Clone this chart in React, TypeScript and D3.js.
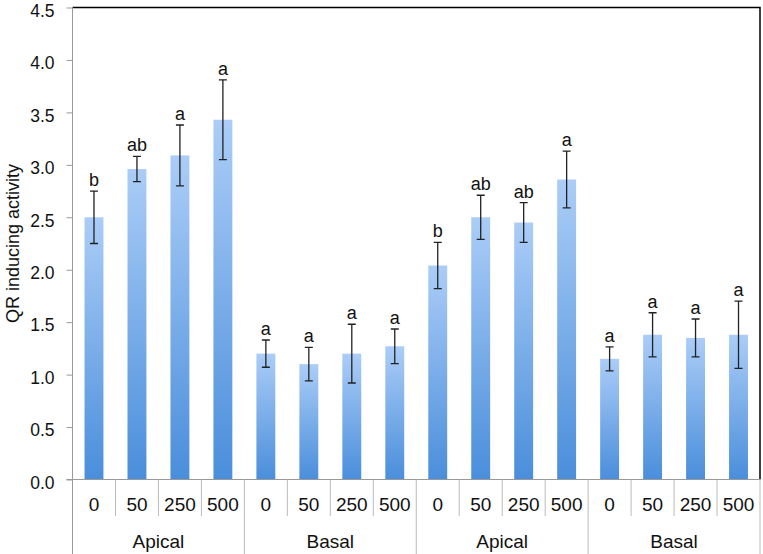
import { useRef, useEffect } from "react";
import { select, scaleLinear, scaleBand, axisLeft, format, range } from "d3";

// concentrations per bar, and tissue groups
const doses = ["0", "50", "250", "500"];
const groups = ["Apical", "Basal", "Apical", "Basal"];

// mean QR inducing activity for each bar (left to right)
const values = [2.5, 2.96, 3.09, 3.43, 1.2, 1.1, 1.2, 1.27, 2.04, 2.5, 2.45, 2.86, 1.15, 1.38, 1.35, 1.38];
// error bar half-widths
const errors = [0.25, 0.12, 0.29, 0.38, 0.13, 0.16, 0.28, 0.165, 0.22, 0.21, 0.19, 0.27, 0.115, 0.21, 0.18, 0.32];
// significance letters
const letters = ["b", "ab", "a", "a", "a", "a", "a", "a", "b", "ab", "ab", "a", "a", "a", "a", "a"];

const yTicks = [0, 0.5, 1, 1.5, 2, 2.5, 3, 3.5, 4, 4.5];

const W = 763;
const H = 554;
const left = 72.5;
const right = 760;
const top = 7.5;
const bottom = 479.5;
const font = "'Liberation Sans', Arial, Helvetica, sans-serif";

export default function App() {
  const svgRef = useRef<SVGSVGElement>(null);

  useEffect(() => {
    const svg = select(svgRef.current);
    svg.selectAll("*").remove();

    const defs = svg.append("defs");
    const grad = defs
      .append("linearGradient")
      .attr("id", "barFill")
      .attr("x1", 0)
      .attr("y1", 0)
      .attr("x2", 0)
      .attr("y2", 1);
    grad.append("stop").attr("offset", "0%").attr("stop-color", "#abcdf7");
    grad.append("stop").attr("offset", "100%").attr("stop-color", "#4a8edb");

    const xScale = scaleBand<number>()
      .domain(range(values.length))
      .range([left, right])
      .paddingInner(0)
      .paddingOuter(0);
    const barW = xScale.bandwidth() * 0.44;

    const yScale = scaleLinear().domain([0, 4.5]).range([bottom, top]);

    // frame: black top and right borders
    svg
      .append("path")
      .attr("d", `M${left},${top}H${right}V${bottom}`)
      .attr("fill", "none")
      .attr("stroke", "#000")
      .attr("stroke-width", 1.5);

    // bars
    svg
      .selectAll(".bar")
      .data(values)
      .join("rect")
      .attr("class", "bar")
      .attr("x", (_, i) => xScale(i)! + xScale.bandwidth() / 2 - barW / 2)
      .attr("y", (d) => yScale(d))
      .attr("width", barW)
      .attr("height", (d) => bottom - yScale(d))
      .attr("fill", "url(#barFill)");

    // error bars
    const cap = 4;
    svg
      .selectAll(".err")
      .data(values)
      .join("path")
      .attr("class", "err")
      .attr("stroke", "#222")
      .attr("stroke-width", 1.3)
      .attr("fill", "none")
      .attr("d", (d, i) => {
        const cx = xScale(i)! + xScale.bandwidth() / 2;
        const y1 = yScale(d + errors[i]);
        const y2 = yScale(d - errors[i]);
        return `M${cx},${y1}V${y2}M${cx - cap},${y1}H${cx + cap}M${cx - cap},${y2}H${cx + cap}`;
      });

    // letters
    svg
      .selectAll(".letter")
      .data(letters)
      .join("text")
      .attr("class", "letter")
      .attr("x", (_, i) => xScale(i)! + xScale.bandwidth() / 2)
      .attr("y", (_, i) => yScale(values[i] + errors[i]) - 5)
      .attr("text-anchor", "middle")
      .attr("font-family", font)
      .attr("font-size", 18)
      .attr("fill", "#111")
      .text((d) => d);

    // y axis
    const yAxis = axisLeft(yScale)
      .tickValues(yTicks)
      .tickFormat(format(".1f"))
      .tickSize(6)
      .tickPadding(12)
      .tickSizeOuter(0);
    const ya = svg.append("g").attr("transform", `translate(${left},0)`).call(yAxis);
    ya.select(".domain").remove();
    ya.selectAll("line").attr("stroke", "#999");
    ya.selectAll("text")
      .attr("font-family", font)
      .attr("font-size", 17.5)
      .attr("dy", "0.5em")
      .attr("fill", "#111");

    // left vertical line, full height
    svg
      .append("line")
      .attr("x1", left)
      .attr("x2", left)
      .attr("y1", top)
      .attr("y2", H)
      .attr("stroke", "#999");

    // baseline
    svg
      .append("line")
      .attr("x1", left - 6)
      .attr("x2", right)
      .attr("y1", bottom)
      .attr("y2", bottom)
      .attr("stroke", "#999");

    // category separators
    const seps = range(1, values.length + 1);
    svg
      .selectAll(".sep")
      .data(seps)
      .join("line")
      .attr("class", "sep")
      .attr("x1", (i) => (i < values.length ? xScale(i)! : right))
      .attr("x2", (i) => (i < values.length ? xScale(i)! : right))
      .attr("y1", bottom)
      .attr("y2", (i) => (i % doses.length === 0 ? H : 516))
      .attr("stroke", "#bbb");

    // dose labels
    svg
      .selectAll(".dose")
      .data(values)
      .join("text")
      .attr("class", "dose")
      .attr("x", (_, i) => xScale(i)! + xScale.bandwidth() / 2)
      .attr("y", 511)
      .attr("text-anchor", "middle")
      .attr("font-family", font)
      .attr("font-size", 19)
      .attr("fill", "#111")
      .text((_, i) => doses[i % doses.length]);

    // group labels
    svg
      .selectAll(".group")
      .data(groups)
      .join("text")
      .attr("class", "group")
      .attr("x", (_, g) => {
        const a = xScale(g * doses.length)!;
        return a + (xScale.bandwidth() * doses.length) / 2;
      })
      .attr("y", 548)
      .attr("text-anchor", "middle")
      .attr("font-family", font)
      .attr("font-size", 19)
      .attr("fill", "#111")
      .text((d) => d);

    // y label
    svg
      .append("text")
      .attr("transform", `translate(19,${(top + bottom) / 2}) rotate(-90)`)
      .attr("text-anchor", "middle")
      .attr("font-family", font)
      .attr("font-size", 18)
      .attr("fill", "#111")
      .text("QR inducing activity");
  }, []);

  return (
    <div style={{ position: "absolute", left: 0, top: 0 }}>
      <svg ref={svgRef} width={W} height={H} style={{ display: "block", background: "#fff" }} />
    </div>
  );
}
